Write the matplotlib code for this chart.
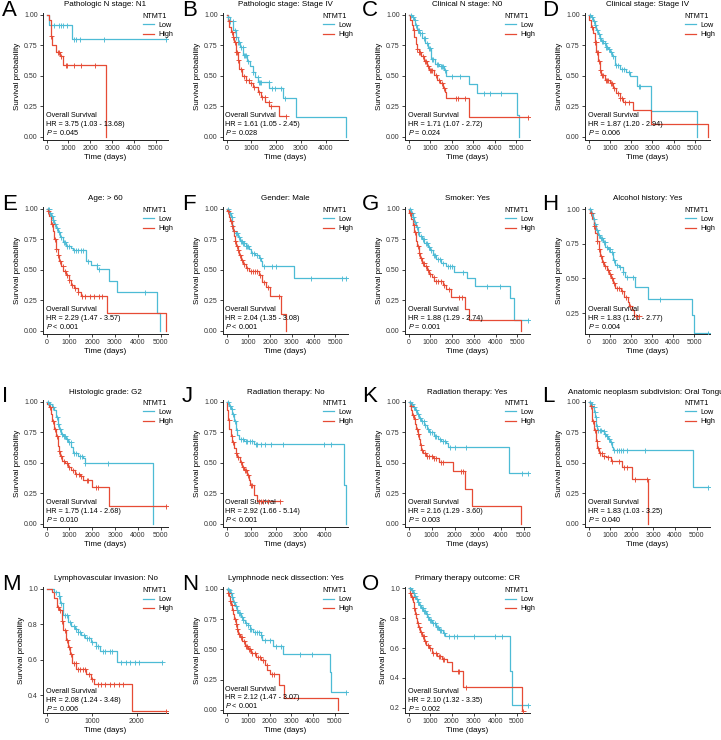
import numpy as np
import matplotlib
matplotlib.use('Agg')
import matplotlib.pyplot as plt
from matplotlib.lines import Line2D

plt.rcParams['font.family'] = ['Liberation Sans', 'DejaVu Sans']
plt.rcParams['mathtext.fontset'] = 'custom'
plt.rcParams['mathtext.it'] = 'Liberation Sans:italic'
plt.rcParams['mathtext.rm'] = 'Liberation Sans'

LOW_COL = '#4DBBD5'
HIGH_COL = '#E64B35'

# ---------------- data ----------------
letters = list('ABCDEFGHIJKLMNO')
titles = ['Pathologic N stage: N1', 'Pathologic stage: Stage IV', 'Clinical N stage: N0',
          'Clinical stage: Stage IV', 'Age: > 60', 'Gender: Male', 'Smoker: Yes',
          'Alcohol history: Yes', 'Histologic grade: G2', 'Radiation therapy: No',
          'Radiation therapy: Yes', 'Anatomic neoplasm subdivision: Oral Tongue',
          'Lymphovascular invasion: No', 'Lymphnode neck dissection: Yes',
          'Primary therapy outcome: CR']
hr_text = ['3.75 (1.03 - 13.68)', '1.61 (1.05 - 2.45)', '1.71 (1.07 - 2.72)', '1.87 (1.20 - 2.94)',
           '2.29 (1.47 - 3.57)', '2.04 (1.35 - 3.08)', '1.88 (1.29 - 2.74)', '1.83 (1.21 - 2.77)',
           '1.75 (1.14 - 2.68)', '2.92 (1.66 - 5.14)', '2.16 (1.29 - 3.60)', '1.83 (1.03 - 3.25)',
           '2.08 (1.24 - 3.48)', '2.12 (1.47 - 3.07)', '2.10 (1.32 - 3.35)']
p_text = ['= 0.045', '= 0.028', '= 0.024', '= 0.006', '< 0.001', '< 0.001', '= 0.001', '= 0.004',
          '= 0.010', '< 0.001', '= 0.003', '= 0.040', '= 0.006', '< 0.001', '= 0.002']

# each curve: event times, survival after event, censor times
A_low_t = [0, 120, 1150]
A_low_s = [1.0, 0.92, 0.80]
A_low_c = [350, 575, 650, 770, 950, 1250, 1370, 1530, 2610, 5480]
A_high_t = [0, 120, 180, 260, 450, 620, 770, 2720]
A_high_s = [1.0, 0.96, 0.83, 0.75, 0.70, 0.66, 0.59, 0.0]
A_high_c = [196, 500, 575, 650, 875, 950, 1250, 1560, 2240]

B_low_t = [0, 60, 150, 270, 380, 470, 540, 675, 810, 940, 1050, 1150, 1280, 1720, 2260, 2800, 4830]
B_low_s = [1, 0.98, 0.95, 0.88, 0.82, 0.78, 0.74, 0.67, 0.62, 0.58, 0.53, 0.49, 0.45, 0.40, 0.32, 0.16, 0.0]
B_low_c = [60, 150, 250, 330, 400, 480, 520, 600, 650, 700, 750, 800, 850, 1050, 1250, 1300, 1350,
           1400, 1700, 1850, 1950, 2200, 2350]
B_high_t = [0, 40, 110, 175, 240, 310, 380, 450, 510, 620, 780, 920, 1080, 1260, 1390, 1570, 1730, 2100]
B_high_s = [1, 0.95, 0.90, 0.86, 0.82, 0.78, 0.70, 0.63, 0.56, 0.50, 0.47, 0.44, 0.41, 0.37, 0.33, 0.29, 0.25, 0.17]
B_high_c = [100, 200, 250, 330, 400, 430, 480, 600, 700, 800, 900, 1000, 1100, 1300, 1450, 1550,
            1700, 1800, 2380]

C_low_t = [0, 155, 230, 310, 390, 500, 625, 780, 900, 1060, 1220, 1400, 1640, 1750, 2810, 3170, 5030, 5125]
C_low_s = [1, 0.98, 0.96, 0.92, 0.88, 0.85, 0.81, 0.77, 0.73, 0.64, 0.60, 0.58, 0.55, 0.50, 0.43, 0.36, 0.18, 0.0]
C_low_c = [100, 200, 280, 350, 420, 460, 550, 600, 700, 750, 850, 950, 1000, 1100, 1150, 1300, 1350,
           1500, 1550, 1600, 1700, 2000, 2400, 3500, 3800, 4300]
C_high_t = [0, 80, 155, 200, 265, 345, 390, 470, 590, 700, 860, 970, 1170, 1330, 1480, 1590, 1690, 1750, 2810]
C_high_s = [1, 0.96, 0.92, 0.88, 0.82, 0.76, 0.72, 0.70, 0.66, 0.62, 0.58, 0.55, 0.51, 0.47, 0.44, 0.40,
            0.37, 0.32, 0.16]
C_high_c = [250, 400, 500, 550, 650, 750, 800, 900, 1000, 1050, 1100, 1250, 1400, 1550, 1650, 2200,
            2300, 2600, 5550]

D_low_t = [0, 100, 200, 280, 360, 440, 520, 600, 700, 800, 900, 1000, 1100, 1230, 1460, 1780, 1930,
           2280, 2920, 5080]
D_low_s = [1, 0.98, 0.95, 0.92, 0.88, 0.84, 0.81, 0.79, 0.77, 0.74, 0.72, 0.70, 0.66, 0.59, 0.56,
           0.53, 0.50, 0.42, 0.21, 0.0]
D_low_c = [50, 150, 250, 320, 400, 480, 550, 620, 680, 750, 820, 880, 950, 1050, 1150, 1300, 1400,
           1550, 1650, 1900, 2350, 2400]
D_high_t = [0, 40, 125, 200, 280, 360, 440, 520, 600, 750, 1000, 1150, 1300, 1460, 1620, 2090, 2920, 5630]
D_high_s = [1, 0.96, 0.90, 0.85, 0.78, 0.70, 0.62, 0.55, 0.51, 0.47, 0.44, 0.40, 0.36, 0.32, 0.29,
            0.22, 0.11, 0.0]
D_high_c = [150, 300, 350, 400, 420, 500, 560, 650, 700, 800, 850, 900, 1050, 1100, 1200, 1400,
            1500, 1550, 1700, 1900]

E_low_t = [0, 120, 190, 260, 335, 410, 480, 600, 700, 845, 1060, 1140, 1720, 1940, 2230, 2740, 3100,
           4850, 4970]
E_low_s = [1, 0.97, 0.94, 0.91, 0.88, 0.84, 0.81, 0.77, 0.73, 0.70, 0.68, 0.66, 0.57, 0.54, 0.51,
           0.41, 0.32, 0.15, 0.0]
E_low_c = [50, 100, 150, 230, 300, 380, 450, 550, 650, 750, 800, 900, 1000, 1200, 1300, 1400, 1500,
           1600, 1800, 2200, 2300, 4300]
E_high_t = [0, 45, 120, 190, 260, 335, 410, 480, 550, 630, 740, 845, 990, 1090, 1210, 1360, 1500,
            2640, 5250]
E_high_s = [1, 0.98, 0.94, 0.88, 0.82, 0.75, 0.67, 0.62, 0.57, 0.53, 0.49, 0.46, 0.42, 0.38, 0.35,
            0.32, 0.29, 0.15, 0.0]
E_high_c = [80, 250, 380, 430, 500, 600, 700, 800, 900, 1000, 1100, 1250, 1400, 1550, 1700, 1900,
            2100, 2300, 2450]

F_low_t = [0, 110, 185, 260, 310, 415, 540, 615, 720, 880, 1030, 1110, 1310, 1490, 1570, 1650, 3110]
F_low_s = [1, 0.97, 0.93, 0.87, 0.82, 0.80, 0.77, 0.74, 0.72, 0.70, 0.67, 0.64, 0.62, 0.60, 0.57,
           0.53, 0.43]
F_low_c = [50, 150, 230, 350, 450, 500, 580, 650, 700, 760, 820, 900, 950, 1000, 1150, 1250, 1400,
           1550, 1700, 2100, 2250, 3900, 5300, 5500]
F_high_t = [0, 30, 110, 150, 230, 290, 340, 385, 445, 510, 570, 660, 770, 880, 1030, 1490, 1650,
            1800, 1990, 2490, 2720]
F_high_s = [1, 0.98, 0.93, 0.90, 0.86, 0.82, 0.78, 0.74, 0.70, 0.66, 0.62, 0.58, 0.55, 0.52, 0.49,
            0.46, 0.40, 0.36, 0.29, 0.14, 0.0]
F_high_c = [60, 200, 260, 320, 400, 480, 540, 600, 700, 800, 950, 1100, 1200, 1300, 1400, 1550,
            1700, 1900, 2400]

G_low_t = [0, 110, 185, 260, 340, 415, 495, 620, 725, 880, 990, 1110, 1265, 1500, 1730, 2110, 2690,
           3040, 4660, 4860]
G_low_s = [1, 0.97, 0.93, 0.89, 0.85, 0.81, 0.78, 0.75, 0.72, 0.69, 0.66, 0.62, 0.59, 0.56, 0.53,
           0.48, 0.43, 0.37, 0.27, 0.09]
G_low_c = [50, 150, 220, 300, 380, 450, 550, 650, 700, 800, 850, 950, 1050, 1150, 1200, 1350, 1450,
           1600, 1800, 1900, 2000, 2500, 3600, 4200, 5500]
G_high_t = [0, 30, 110, 185, 260, 340, 385, 460, 525, 620, 725, 830, 955, 1080, 1190, 1570, 1730,
            1960, 2580, 2780, 5150]
G_high_s = [1, 0.97, 0.92, 0.87, 0.81, 0.74, 0.70, 0.64, 0.60, 0.56, 0.53, 0.50, 0.47, 0.44, 0.41,
            0.38, 0.34, 0.28, 0.18, 0.09, 0.0]
G_high_c = [80, 230, 300, 420, 480, 560, 650, 700, 780, 900, 1000, 1150, 1250, 1350, 1500, 1650,
            1850, 2300, 2450]

H_low_t = [0, 125, 200, 280, 360, 440, 550, 670, 800, 905, 1030, 1140, 1265, 1450, 1610, 1735, 2200,
           2830, 4920, 4985]
H_low_s = [1, 0.97, 0.93, 0.89, 0.85, 0.81, 0.79, 0.76, 0.73, 0.71, 0.69, 0.63, 0.60, 0.58, 0.55,
           0.51, 0.44, 0.35, 0.24, 0.11]
H_low_c = [60, 160, 240, 320, 400, 500, 600, 650, 720, 780, 850, 950, 1000, 1100, 1200, 1350, 1500,
           1650, 1800, 2100, 3400, 5670]
H_high_t = [0, 80, 155, 235, 315, 390, 470, 550, 640, 750, 875, 985, 1060, 1170, 1265, 1530, 1690,
            1845, 1920, 2080, 2160]
H_high_s = [1, 0.97, 0.93, 0.88, 0.83, 0.77, 0.71, 0.66, 0.62, 0.59, 0.56, 0.53, 0.50, 0.47, 0.43,
            0.41, 0.37, 0.33, 0.30, 0.27, 0.23]
H_high_c = [120, 280, 420, 500, 600, 700, 800, 900, 1000, 1100, 1200, 1350, 1450, 1600, 1750, 1950,
            2250, 2390]

I_low_t = [0, 100, 225, 330, 400, 480, 555, 630, 700, 850, 930, 1080, 1150, 1380, 1600, 1680, 4640]
I_low_s = [1, 0.98, 0.96, 0.93, 0.88, 0.82, 0.78, 0.74, 0.72, 0.70, 0.67, 0.63, 0.58, 0.56, 0.54,
           0.50, 0.0]
I_low_c = [50, 150, 280, 450, 520, 600, 680, 750, 800, 900, 1000, 1050, 1200, 1300, 1450, 1550,
           1700, 2700]
I_high_t = [0, 30, 100, 180, 255, 330, 400, 480, 525, 585, 675, 820, 930, 1080, 1230, 1450, 1600,
            1975, 2720]
I_high_s = [1, 0.98, 0.96, 0.90, 0.84, 0.78, 0.72, 0.64, 0.60, 0.56, 0.52, 0.50, 0.47, 0.44, 0.41,
            0.39, 0.36, 0.30, 0.15]
I_high_c = [150, 280, 350, 450, 550, 650, 750, 900, 1000, 1150, 1300, 1400, 1500, 1750, 1800, 2150,
            2250, 5240]

J_low_t = [0, 100, 165, 235, 305, 375, 440, 510, 720, 1135, 4800, 4870]
J_low_s = [1, 0.97, 0.94, 0.90, 0.84, 0.77, 0.73, 0.70, 0.68, 0.655, 0.32, 0.0]
J_low_c = [50, 140, 200, 280, 350, 420, 600, 650, 780, 850, 950, 1050, 1200, 1250, 1400, 1550, 1800,
           2300, 3950, 4250]
J_high_t = [0, 30, 70, 110, 165, 235, 305, 375, 440, 540, 620, 720, 830, 900, 970, 1110, 1245]
J_high_s = [1, 0.93, 0.85, 0.78, 0.72, 0.67, 0.62, 0.58, 0.55, 0.51, 0.47, 0.44, 0.40, 0.36, 0.32,
            0.24, 0.19]
J_high_c = [90, 200, 280, 400, 480, 580, 660, 750, 800, 870, 1000, 1050, 1300, 1400, 1500, 1700, 2170]

K_low_t = [0, 100, 190, 300, 370, 445, 550, 670, 785, 890, 1085, 1260, 1410, 1630, 1700, 4380]
K_low_s = [1, 0.98, 0.96, 0.93, 0.90, 0.87, 0.84, 0.81, 0.78, 0.75, 0.72, 0.70, 0.68, 0.66, 0.63, 0.42]
K_low_c = [50, 150, 250, 330, 400, 500, 600, 650, 720, 850, 950, 1000, 1150, 1200, 1350, 1500, 1600,
           1800, 2000, 2500, 4950, 5200]
K_high_t = [0, 75, 120, 165, 220, 300, 340, 400, 445, 490, 550, 640, 740, 1040, 1335, 1930, 2450,
            2745, 4900]
K_high_s = [1, 0.97, 0.93, 0.89, 0.86, 0.82, 0.78, 0.74, 0.70, 0.65, 0.61, 0.58, 0.56, 0.54, 0.51,
            0.43, 0.29, 0.145, 0.0]
K_high_c = [100, 200, 260, 370, 420, 520, 600, 700, 800, 900, 1000, 1100, 1200, 1400, 1500, 2300, 2350]

L_low_t = [0, 105, 180, 260, 305, 365, 410, 640, 720, 795, 920, 980, 1070, 1130, 4850]
L_low_s = [1, 0.98, 0.96, 0.92, 0.88, 0.80, 0.77, 0.76, 0.74, 0.72, 0.70, 0.67, 0.63, 0.61, 0.30]
L_low_c = [50, 150, 230, 280, 330, 380, 450, 520, 580, 700, 760, 850, 950, 1050, 1200, 1300, 1400,
           1500, 1600, 1800, 2600, 5540]
L_high_t = [0, 60, 150, 180, 260, 335, 410, 490, 640, 795, 1025, 1560, 1990, 2750]
L_high_s = [1, 0.97, 0.93, 0.84, 0.77, 0.68, 0.62, 0.58, 0.56, 0.55, 0.52, 0.47, 0.37, 0.0]
L_high_c = [100, 220, 300, 380, 450, 550, 600, 700, 900, 1100, 1400, 1650, 1800, 2150, 2700]

M_low_t = [0, 157, 264, 300, 370, 480, 550, 620, 690, 765, 860, 980, 1085, 1190, 1550]
M_low_s = [1, 0.98, 0.96, 0.92, 0.85, 0.81, 0.79, 0.775, 0.755, 0.74, 0.72, 0.70, 0.68, 0.65, 0.585]
M_low_c = [200, 280, 330, 400, 450, 520, 600, 650, 700, 750, 820, 900, 950, 1000, 1100, 1150, 1250,
           1300, 1400, 1450, 1650, 1750, 1850, 1950, 2050, 2550]
M_high_t = [0, 120, 157, 230, 285, 335, 370, 430, 465, 514, 571, 657, 871, 980, 1050, 1900]
M_high_s = [1, 0.98, 0.95, 0.90, 0.88, 0.82, 0.77, 0.71, 0.67, 0.63, 0.58, 0.55, 0.52, 0.49, 0.466, 0.31]
M_high_c = [250, 300, 350, 400, 450, 500, 550, 600, 650, 700, 750, 800, 850, 950, 1000, 1150, 1200,
            1300, 1400, 1500, 1600, 1700, 2650]

N_low_t = [0, 75, 155, 230, 310, 385, 460, 540, 650, 740, 845, 970, 1080, 1230, 1585, 1660, 2150,
           2620, 4770, 4850]
N_low_s = [1, 0.99, 0.97, 0.93, 0.89, 0.86, 0.83, 0.80, 0.77, 0.74, 0.72, 0.70, 0.67, 0.645, 0.62,
           0.58, 0.53, 0.46, 0.31, 0.15]
N_low_c = [50, 120, 200, 270, 350, 420, 500, 580, 620, 700, 780, 900, 1000, 1100, 1150, 1300, 1400,
           1500, 1600, 1800, 2000, 2300, 2500, 3400, 3950, 5540]
N_high_t = [0, 45, 110, 155, 200, 260, 310, 355, 415, 460, 540, 615, 720, 845, 1000, 1150, 1385,
            1615, 1770, 1890, 2000, 2415, 2660, 5150]
N_high_s = [1, 0.97, 0.94, 0.90, 0.87, 0.83, 0.79, 0.75, 0.71, 0.67, 0.63, 0.60, 0.57, 0.53, 0.50,
            0.47, 0.44, 0.41, 0.37, 0.33, 0.30, 0.21, 0.10, 0.0]
N_high_c = [80, 180, 230, 300, 380, 440, 500, 580, 650, 700, 800, 900, 950, 1050, 1100, 1200, 1300,
            1450, 1550, 1700, 1850, 2100, 2200]

O_low_t = [0, 120, 195, 270, 345, 420, 495, 570, 675, 795, 870, 945, 1095, 1245, 1400, 1590, 1670,
           4700, 4775]
O_low_s = [1, 0.99, 0.97, 0.95, 0.93, 0.91, 0.89, 0.87, 0.85, 0.83, 0.81, 0.79, 0.77, 0.74, 0.72,
           0.70, 0.68, 0.45, 0.22]
O_low_c = [60, 150, 230, 300, 380, 450, 530, 600, 650, 720, 760, 830, 900, 1000, 1050, 1150, 1200,
           1300, 1350, 1450, 1500, 1650, 1850, 2100, 2250, 3000, 4000, 4300, 5525]
O_high_t = [0, 45, 120, 195, 240, 300, 345, 390, 450, 525, 615, 720, 825, 945, 1095, 1320, 1545,
            1770, 2000, 2520, 5225]
O_high_s = [1, 0.97, 0.94, 0.91, 0.87, 0.83, 0.80, 0.77, 0.74, 0.71, 0.68, 0.65, 0.62, 0.60, 0.57,
            0.55, 0.53, 0.51, 0.45, 0.34, 0.18]
O_high_c = [80, 160, 270, 330, 420, 480, 560, 650, 700, 780, 880, 1000, 1150, 1250, 1400, 1450, 1600,
            1650, 2300, 2350, 2650, 5300]

curves = {
    'A': (A_low_t, A_low_s, A_low_c, A_high_t, A_high_s, A_high_c),
    'B': (B_low_t, B_low_s, B_low_c, B_high_t, B_high_s, B_high_c),
    'C': (C_low_t, C_low_s, C_low_c, C_high_t, C_high_s, C_high_c),
    'D': (D_low_t, D_low_s, D_low_c, D_high_t, D_high_s, D_high_c),
    'E': (E_low_t, E_low_s, E_low_c, E_high_t, E_high_s, E_high_c),
    'F': (F_low_t, F_low_s, F_low_c, F_high_t, F_high_s, F_high_c),
    'G': (G_low_t, G_low_s, G_low_c, G_high_t, G_high_s, G_high_c),
    'H': (H_low_t, H_low_s, H_low_c, H_high_t, H_high_s, H_high_c),
    'I': (I_low_t, I_low_s, I_low_c, I_high_t, I_high_s, I_high_c),
    'J': (J_low_t, J_low_s, J_low_c, J_high_t, J_high_s, J_high_c),
    'K': (K_low_t, K_low_s, K_low_c, K_high_t, K_high_s, K_high_c),
    'L': (L_low_t, L_low_s, L_low_c, L_high_t, L_high_s, L_high_c),
    'M': (M_low_t, M_low_s, M_low_c, M_high_t, M_high_s, M_high_c),
    'N': (N_low_t, N_low_s, N_low_c, N_high_t, N_high_s, N_high_c),
    'O': (O_low_t, O_low_s, O_low_c, O_high_t, O_high_s, O_high_c),
}

# axis settings that differ from the default 0..1 survival axis
y_setup = {
    'H': ([0.25, 0.50, 0.75, 1.00], '%.2f', (0.10, 1.015)),
    'M': ([0.4, 0.6, 0.8, 1.0], '%.1f', (0.30, 1.01)),
    'O': ([0.2, 0.4, 0.6, 0.8, 1.0], '%.1f', (0.165, 1.01)),
}
x_max_tick = {'B': 4000, 'J': 4000, 'M': 2000}

# ---------------- layout (pixels) ----------------
W, H = 721, 740
fig = plt.figure(figsize=(W / 100, H / 100), dpi=100)
col_x = [0, 180, 360, 540]
ax_left = [43, 223, 405, 585]
row_top = [13, 207, 400, 587]
row_bot = [140, 334, 527, 713]
AX_W = 125


def step_value(t, s, tc):
    idx = np.searchsorted(np.asarray(t), tc, side='right') - 1
    return np.asarray(s)[idx]


def draw_curve(ax, t, s, c, color):
    t_end = max(t[-1], max(c))
    ax.step(list(t) + [t_end], list(s) + [s[-1]], where='post', color=color, lw=0.9, zorder=3)
    cy = step_value(t, s, np.asarray(c))
    ax.plot(c, cy, ls='none', marker='+', ms=3.6, mew=0.65, color=color, zorder=4)


for i, let in enumerate(letters):
    r, cidx = divmod(i, 4)
    left = ax_left[cidx]
    top, bot = row_top[r], row_bot[r]
    ax = fig.add_axes([left / W, 1 - bot / H, AX_W / W, (bot - top) / H])

    lt, ls, lc, ht, hs, hc = curves[let]
    draw_curve(ax, lt, ls, lc, LOW_COL)
    draw_curve(ax, ht, hs, hc, HIGH_COL)

    tmax = max(lt[-1], ht[-1], max(lc), max(hc))
    ax.set_xlim(-0.03 * tmax, 1.015 * tmax)
    ax.set_xticks(np.arange(0, x_max_tick.get(let, 5000) + 1, 1000))

    if let in y_setup:
        yt, fmt, ylim = y_setup[let]
    else:
        yt, fmt, ylim = [0, 0.25, 0.5, 0.75, 1.0], '%.2f', (-0.025, 1.016)
    ax.set_ylim(*ylim)
    ax.set_yticks(yt)
    ax.set_yticklabels([fmt % v for v in yt])

    for side in ['top', 'right']:
        ax.spines[side].set_visible(False)
    for side in ['left', 'bottom']:
        ax.spines[side].set_linewidth(0.7)
        ax.spines[side].set_color('#222222')
    ax.tick_params(labelsize=5.0, length=2.2, width=0.6, pad=1.5, colors='#222222',
                   labelcolor='#333333')

    ax.set_xlabel('Time (days)', fontsize=5.8, labelpad=1.5)
    ax.set_ylabel('Survival probability', fontsize=5.8, labelpad=2)

    # annotation block
    if let in ('M', 'O'):
        ys = (0.17, 0.097, 0.034)
    else:
        ys = (0.19, 0.124, 0.057)
    ax.text(0.02, ys[0], 'Overall Survival', transform=ax.transAxes, fontsize=5.2, va='center')
    ax.text(0.02, ys[1], 'HR = ' + hr_text[i], transform=ax.transAxes, fontsize=5.2, va='center')
    ax.text(0.02, ys[2], '$\\it{P}$ ' + p_text[i], transform=ax.transAxes, fontsize=5.2, va='center')

    handles = [Line2D([], [], color=LOW_COL, lw=0.9), Line2D([], [], color=HIGH_COL, lw=0.9)]
    ax.legend(handles, ['Low', 'High'], title='NTMT1', loc='upper left',
              bbox_to_anchor=(0.77, 1.03), frameon=False, fontsize=5.2, title_fontsize=5.2,
              handlelength=1.6, handletextpad=0.5, labelspacing=0.3, borderpad=0,
              alignment='left')

    # title and panel letter
    fig.text((left + AX_W / 2) / W, 1 - (top - 8) / H, titles[i], ha='center', va='center',
             fontsize=5.8)
    fig.text((col_x[cidx] + 2) / W, 1 - (top - 3) / H, let, ha='left', va='center',
             fontsize=16)

fig.savefig('out.png', dpi=100)
